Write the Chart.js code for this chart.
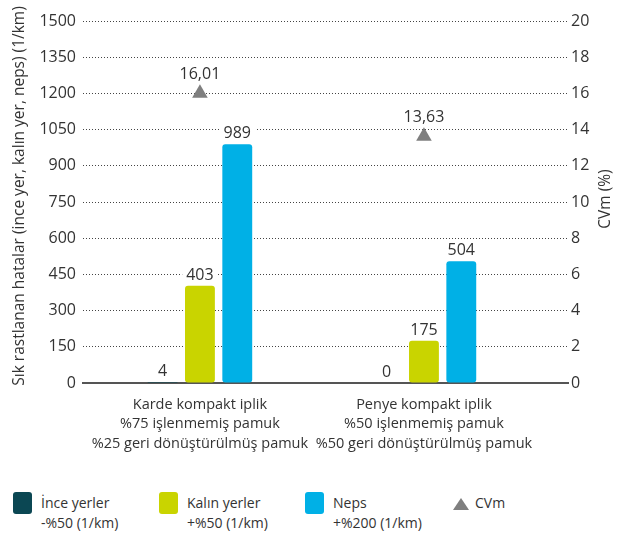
<!DOCTYPE html>
<html>
<head>
<meta charset="utf-8">
<script src="https://cdn.jsdelivr.net/npm/chart.js@4.4.0/dist/chart.umd.min.js"></script>
<style>
    body { margin: 0; background: #fff; font-family: "Open Sans", sans-serif; color: #333; }
    #wrap { position: relative; width: 630px; height: 538px; }
    #chartBox { position: absolute; left: 0; top: 0; width: 630px; height: 470px; }
    .item { position: absolute; top: 493px; font-size: 14px; line-height: 20px; }
    .swatch { position: absolute; left: 0; top: -1px; width: 19px; height: 22px; border-radius: 3px; }
    .item span { display: block; margin-left: 28px; white-space: nowrap; }
    .tri { position: absolute; left: 0; top: 5px; width: 0; height: 0;
           border-left: 8px solid transparent; border-right: 8px solid transparent; border-bottom: 12px solid #7f7f7f; }
</style>
</head>
<body>
<div id="wrap">
    <div id="chartBox"><canvas id="chart"></canvas></div>
    <div id="legend"></div>
</div>
<script>
// categories (multi-line x labels)
const categories = [
    ["Karde kompakt iplik", "%75 işlenmemiş pamuk", "%25 geri dönüştürülmüş pamuk"],
    ["Penye kompakt iplik", "%50 işlenmemiş pamuk", "%50 geri dönüştürülmüş pamuk"]
];
// series values (1/km)
const inceYerler = [4, 0];
const kalinYerler = [403, 175];
const neps = [989, 504];
// CVm (%)
const cvm = [16.01, 13.63];

// axis settings
const leftMax = 1500, leftStep = 150;
const rightMax = 20, rightStep = 2;

const colors = { ince: '#0b4753', kalin: '#c9d400', neps: '#00b0e6', cvm: '#7f7f7f' };
const legendItems = [
    { color: colors.ince, lines: ['İnce yerler', '-%50 (1/km)'], left: 13 },
    { color: colors.kalin, lines: ['Kalın yerler', '+%50 (1/km)'], left: 159 },
    { color: colors.neps, lines: ['Neps', '+%200 (1/km)'], left: 305 },
    { triangle: true, lines: ['CVm'], left: 453 }
];

const FONT = '"Open Sans", sans-serif';
const textColor = '#333';

function toPoints(arr) {
    return arr.map((v, i) => ({ x: i, y: v }));
}

// value labels above bars and triangles (white box hides the dotted grid)
const valueLabels = {
    id: 'valueLabels',
    afterDatasetsDraw(chart) {
        const ctx = chart.ctx;
        ctx.save();
        ctx.font = '16px ' + FONT;
        ctx.textAlign = 'center';
        ctx.textBaseline = 'alphabetic';
        chart.data.datasets.forEach((ds, di) => {
            const meta = chart.getDatasetMeta(di);
            meta.data.forEach((el, i) => {
                const v = ds.data[i].y;
                const isCvm = ds.type === 'line';
                const txt = isCvm ? v.toFixed(2).replace('.', ',') : String(v);
                const base = isCvm ? el.y - 14 : el.y - 6;
                const w = ctx.measureText(txt).width;
                ctx.fillStyle = '#fff';
                ctx.fillRect(el.x - w / 2 - 4, base - 15, w + 8, 18);
                ctx.fillStyle = textColor;
                ctx.fillText(txt, el.x, base);
            });
        });
        ctx.restore();
    }
};

// both axis titles read bottom-to-top
const axisTitles = {
    id: 'axisTitles',
    afterDraw(chart) {
        const ctx = chart.ctx;
        const a = chart.chartArea;
        const midY = (a.top + a.bottom) / 2;
        ctx.save();
        ctx.font = '15.5px ' + FONT;
        ctx.fillStyle = textColor;
        ctx.textAlign = 'center';
        ctx.textBaseline = 'middle';
        [[20, 'Sık rastlanan hatalar (ince yer, kalın yer, neps) (1/km)', midY - 6], [606, 'CVm (%)', midY - 3]].forEach(([x, t, y]) => {
            ctx.save();
            ctx.translate(x, y);
            ctx.rotate(-Math.PI / 2);
            ctx.fillText(t, 0, 0);
            ctx.restore();
        });
        ctx.restore();
    }
};

const barCommon = {
    type: 'bar',
    yAxisID: 'y',
    borderRadius: 3,
    borderSkipped: false,
    categoryPercentage: 0.5,
    barPercentage: 0.8
};

new Chart(document.getElementById('chart'), {
    data: {
        datasets: [
            Object.assign({ label: 'İnce yerler', data: toPoints(inceYerler), backgroundColor: colors.ince }, barCommon),
            Object.assign({ label: 'Kalın yerler', data: toPoints(kalinYerler), backgroundColor: colors.kalin }, barCommon),
            Object.assign({ label: 'Neps', data: toPoints(neps), backgroundColor: colors.neps }, barCommon),
            {
                type: 'line',
                label: 'CVm',
                yAxisID: 'y1',
                data: toPoints(cvm),
                showLine: false,
                pointStyle: 'triangle',
                pointRadius: 9,
                pointBackgroundColor: colors.cvm,
                pointBorderWidth: 0
            }
        ]
    },
    options: {
        responsive: true,
        maintainAspectRatio: false,
        animation: false,
        layout: { padding: { top: 21, left: 0, right: 0, bottom: 0 } },
        plugins: { legend: { display: false }, tooltip: { enabled: false } },
        scales: {
            x: {
                type: 'linear',
                min: -0.522,
                max: 1.643,
                offset: false,
                grid: { display: false, offset: false },
                border: { display: true, color: '#555', width: 2 },
                afterBuildTicks: (axis) => { axis.ticks = categories.map((c, i) => ({ value: i })); },
                afterFit: (scale) => { scale.height = 87; },
                ticks: {
                    autoSkip: false,
                    maxRotation: 0,
                    padding: 4,
                    color: textColor,
                    font: { family: FONT, size: 14.5, lineHeight: 1.35 },
                    callback: (v) => categories[v]
                }
            },
            y: {
                position: 'left',
                min: 0,
                max: leftMax,
                afterFit: (scale) => { scale.width = 83; },
                grid: { color: '#444', lineWidth: 1, drawTicks: false },
                border: { display: false, dash: [1, 2] },
                ticks: {
                    stepSize: leftStep,
                    padding: 7,
                    color: textColor,
                    font: { family: FONT, size: 16 },
                    callback: (v) => String(v)
                }
            },
            y1: {
                position: 'right',
                min: 0,
                max: rightMax,
                afterFit: (scale) => { scale.width = 62; },
                grid: { display: false, drawTicks: false },
                border: { display: false },
                ticks: {
                    stepSize: rightStep,
                    padding: 3,
                    color: textColor,
                    font: { family: FONT, size: 16 },
                    callback: (v) => String(v)
                }
            }
        }
    },
    plugins: [valueLabels, axisTitles]
});

// legend below the chart
const legend = document.getElementById('legend');
legendItems.forEach(item => {
    const d = document.createElement('div');
    d.className = 'item';
    d.style.left = item.left + 'px';
    const mark = document.createElement('div');
    if (item.triangle) {
        mark.className = 'tri';
    } else {
        mark.className = 'swatch';
        mark.style.background = item.color;
    }
    d.appendChild(mark);
    item.lines.forEach(t => {
        const s = document.createElement('span');
        s.textContent = t;
        if (item.triangle) s.style.marginLeft = '22px';
        d.appendChild(s);
    });
    legend.appendChild(d);
});
</script>
</body>
</html>
